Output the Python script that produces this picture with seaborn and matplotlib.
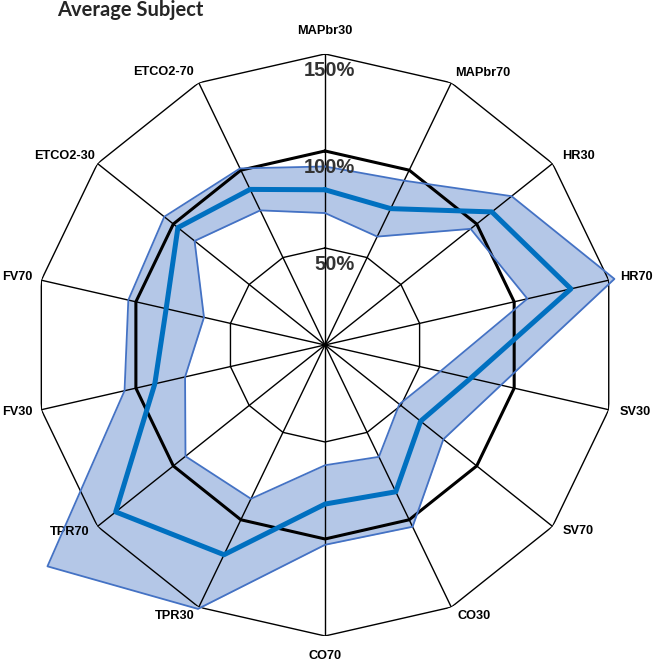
import numpy as np
import matplotlib
matplotlib.use('Agg')
from matplotlib import pyplot as plt
import seaborn as sns

# values (percent of baseline)
categories = ['MAPbr30', 'MAPbr70', 'HR30', 'HR70', 'SV30', 'SV70', 'CO30',
              'CO70', 'TPR30', 'TPR70', 'FV30', 'FV70', 'ETCO2-30', 'ETCO2-70']
mean_vals = [80, 78, 110, 130, 77, 63, 84, 82, 120, 138, 90, 84, 97, 89]
upper_vals = [92, 94, 123, 153, 93, 78, 104, 103, 151, 183, 106, 104, 106, 101]
lower_vals = [68, 62, 96, 107, 61, 49, 64, 62, 88, 92, 74, 64, 86, 77]
baseline_vals = [100] * len(categories)
ring_vals = [50, 100, 150]
ring_labels = ['50%', '100%', '150%']

sns.set_theme(style='white')
plt.rcParams['font.family'] = ['Liberation Sans', 'DejaVu Sans']

n = len(categories)
theta = np.linspace(0, 2 * np.pi, n, endpoint=False)
theta_c = np.append(theta, 2 * np.pi)


def closed(vals):
    return np.append(vals, vals[0])


fig = plt.figure(figsize=(6.53, 6.62), dpi=100)
ax = fig.add_axes([0.0521, 0.0393, 0.8913, 0.8792], projection='polar')
ax.set_theta_zero_location('N')
ax.set_theta_direction(-1)
ax.set_ylim(0, 150)
ax.axis('off')

# shaded band between lower and upper
band = ax.fill_between(theta_c, closed(lower_vals), closed(upper_vals),
                       color='#b4c7e7', linewidth=0, zorder=1)
band.set_clip_on(False)

# polygon grid
for rv in ring_vals:
    ax.plot(theta_c, [rv] * (n + 1), color='black', lw=1.0, zorder=2)
for t in theta:
    ax.plot([t, t], [0, 150], color='black', lw=1.0, zorder=2)

sns.lineplot(x=theta_c, y=closed(baseline_vals), ax=ax, color='black',
             lw=2.2, sort=False, zorder=3)
sns.lineplot(x=theta_c, y=closed(upper_vals), ax=ax, color='#4472c4',
             lw=1.3, sort=False, zorder=4, clip_on=False)
sns.lineplot(x=theta_c, y=closed(lower_vals), ax=ax, color='#4472c4',
             lw=1.3, sort=False, zorder=4)
sns.lineplot(x=theta_c, y=closed(mean_vals), ax=ax, color='#0070c0',
             lw=3.6, sort=False, zorder=5)

# ring value labels
for rv, lab in zip(ring_vals, ring_labels):
    ax.annotate(lab, xy=(0, rv), xytext=(30 * 0.72, -17 * 0.72),
                textcoords='offset points', ha='right', va='center',
                fontsize=14.5, fontweight='bold', color='#333333', zorder=6,
                annotation_clip=False)

# category labels (offsets in pixels from the outer vertex)
label_offsets = [(0, 23), (4, 10), (10, 8), (11, 3), (11, -2), (10, -5),
                 (6, -9), (0, -20), (-4, -9), (-8, -6), (-9, -2), (-9, 3),
                 (-3, 8), (-5, 11)]
for t, lab, (dx, dy) in zip(theta, categories, label_offsets):
    ha = 'center' if dx == 0 else ('left' if dx > 0 else 'right')
    ax.annotate(lab, xy=(t, 150), xytext=(dx * 0.72, dy * 0.72),
                textcoords='offset points', ha=ha, va='center',
                fontsize=9.2, fontweight='bold', color='black',
                annotation_clip=False)

fig.text(57 / 653, 1 - 16 / 662, 'Average Subject', ha='left', va='baseline',
         fontsize=14.5, fontweight='bold', family=['Lato', 'DejaVu Sans'])

fig.savefig('out.png', dpi=100, facecolor='white')
